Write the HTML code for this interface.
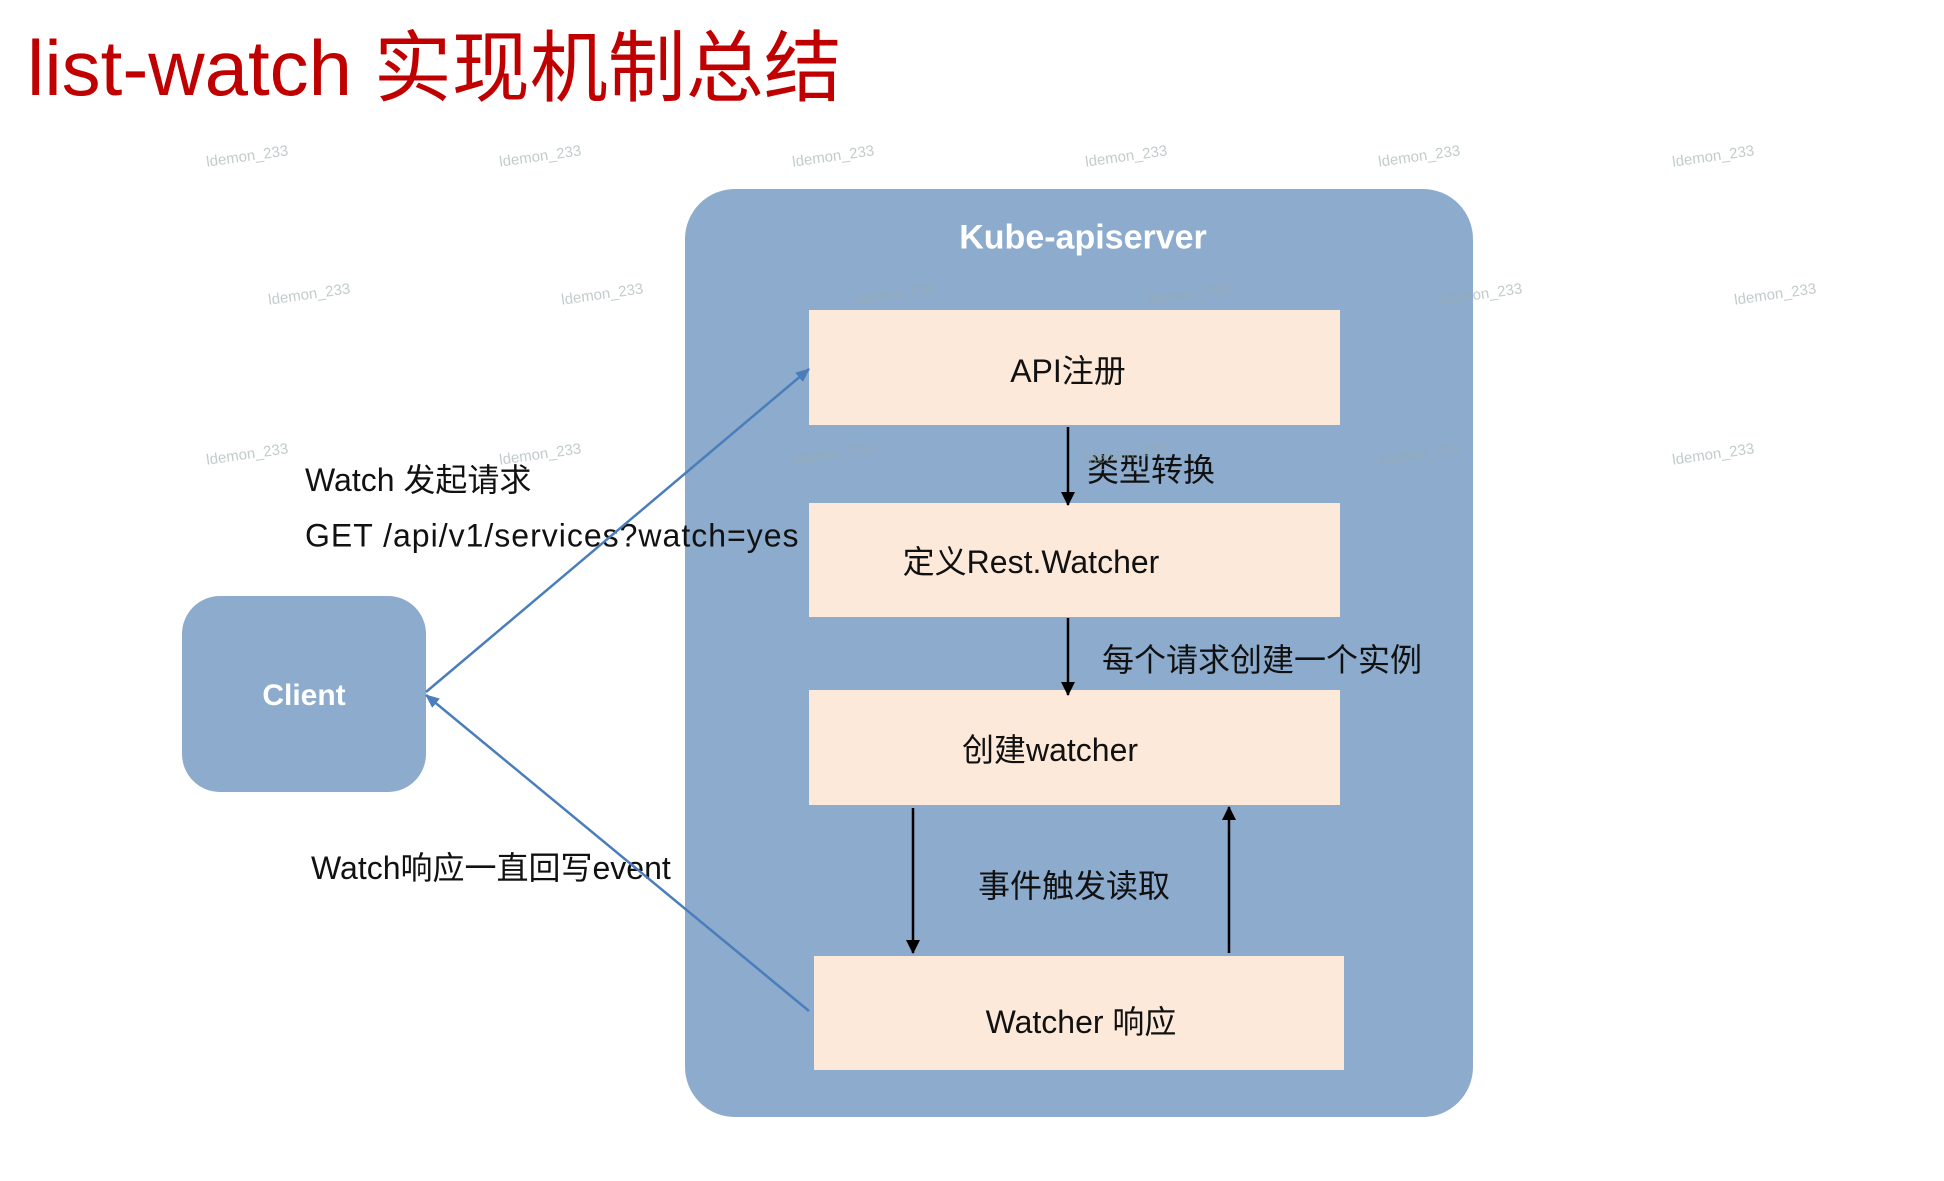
<!DOCTYPE html>
<html><head><meta charset="utf-8"><style>
body{margin:0;width:1944px;height:1181px;background:#fff;position:relative;overflow:hidden;font-family:"Liberation Sans","Noto Sans CJK SC",sans-serif}
.a{position:absolute;white-space:nowrap}
.box{position:absolute;background:#fce9da}
.c{transform:translate(-50%,-50%);font-size:32px;color:#111}
.l{font-size:32px;color:#111;transform:translateY(-50%)}
.w{position:absolute;font-size:15px;color:#9aa;opacity:.6;transform:rotate(-8deg)}
</style></head><body>
<div class="a" style="left:27px;top:6px;font-size:78px;color:#c00000;">list-watch 实现机制总结</div>
<div style="position:absolute;left:685px;top:189px;width:788px;height:928px;background:#8cabcd;border-radius:50px"></div>
<div class="a" style="left:1083px;top:238px;transform:translate(-50%,-50%);color:#fff;font-weight:bold;font-size:34px">Kube-apiserver</div>
<div class="box" style="left:809px;top:310px;width:531px;height:115px"></div>
<div class="box" style="left:809px;top:503px;width:531px;height:114px"></div>
<div class="box" style="left:809px;top:690px;width:531px;height:115px"></div>
<div class="box" style="left:814px;top:956px;width:530px;height:114px"></div>
<div style="position:absolute;left:182px;top:596px;width:244px;height:196px;background:#8cabcd;border-radius:38px"></div>
<div class="a" style="left:304px;top:696px;transform:translate(-50%,-50%);color:#fff;font-weight:bold;font-size:30px">Client</div>
<div class="a c" style="left:1068px;top:369px">API注册</div>
<div class="a c" style="left:1031px;top:560px">定义Rest.Watcher</div>
<div class="a c" style="left:1050px;top:748px">创建watcher</div>
<div class="a c" style="left:1081px;top:1020px">Watcher 响应</div>
<div class="a l" style="left:1087px;top:468px">类型转换</div>
<div class="a l" style="left:1102px;top:658px">每个请求创建一个实例</div>
<div class="a l" style="left:978px;top:884px">事件触发读取</div>
<div class="a l" style="left:305px;top:478px">Watch 发起请求</div>
<div class="a l" style="left:305px;top:536px;letter-spacing:1px">GET /api/v1/services?watch=yes</div>
<div class="a l" style="left:311px;top:866px">Watch响应一直回写event</div>
<svg width="1944" height="1181" style="position:absolute;left:0;top:0">
<defs>
<marker id="k" markerWidth="14" markerHeight="14" refX="13" refY="7" orient="auto" markerUnits="userSpaceOnUse"><path d="M0,0 L14,7 L0,14z" fill="#000"/></marker>
<marker id="b" markerWidth="14" markerHeight="12" refX="13" refY="6" orient="auto" markerUnits="userSpaceOnUse"><path d="M0,0 L14,6 L0,12z" fill="#4a7ebb"/></marker>
</defs>
<g stroke="#000" stroke-width="2.5">
<line x1="1068" y1="427" x2="1068" y2="505" marker-end="url(#k)"/>
<line x1="1068" y1="618" x2="1068" y2="695" marker-end="url(#k)"/>
<line x1="913" y1="808" x2="913" y2="953" marker-end="url(#k)"/>
<line x1="1229" y1="953" x2="1229" y2="807" marker-end="url(#k)"/>
</g>
<g stroke="#4a7ebb" stroke-width="2.5">
<line x1="426" y1="692" x2="809" y2="369" marker-end="url(#b)"/>
<line x1="809" y1="1011" x2="426" y2="695" marker-end="url(#b)"/>
</g>
</svg>
<div class="w" style="left:206px;top:148px">ldemon_233</div>
<div class="w" style="left:499px;top:148px">ldemon_233</div>
<div class="w" style="left:792px;top:148px">ldemon_233</div>
<div class="w" style="left:1085px;top:148px">ldemon_233</div>
<div class="w" style="left:1378px;top:148px">ldemon_233</div>
<div class="w" style="left:1672px;top:148px">ldemon_233</div>
<div class="w" style="left:268px;top:286px">ldemon_233</div>
<div class="w" style="left:561px;top:286px">ldemon_233</div>
<div class="w" style="left:854px;top:286px">ldemon_233</div>
<div class="w" style="left:1147px;top:286px">ldemon_233</div>
<div class="w" style="left:1440px;top:286px">ldemon_233</div>
<div class="w" style="left:1734px;top:286px">ldemon_233</div>
<div class="w" style="left:206px;top:446px">ldemon_233</div>
<div class="w" style="left:499px;top:446px">ldemon_233</div>
<div class="w" style="left:792px;top:446px">ldemon_233</div>
<div class="w" style="left:1085px;top:446px">ldemon_233</div>
<div class="w" style="left:1378px;top:446px">ldemon_233</div>
<div class="w" style="left:1672px;top:446px">ldemon_233</div>
</body></html>
